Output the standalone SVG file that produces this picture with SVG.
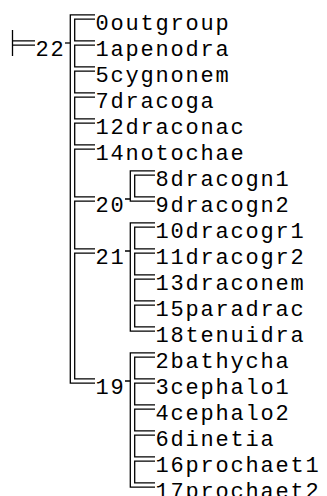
<svg xmlns="http://www.w3.org/2000/svg" width="327" height="496" viewBox="0 0 327 496">
<style>
  text { font-family: "Liberation Mono", "Courier New", monospace; font-size: 22px; letter-spacing: 1.8px; fill: #000; }
  .ln { fill: none; stroke: #000; stroke-width: 1.3; }
</style>
<rect width="327" height="496" fill="#fff"/>
<g id="connectors" class="ln">
  <path d="M12.5,30 V56 M12.5,40.8 H35 M12.5,45.2 H35"/>
  <path d="M65,43 H70.3"/>
  <path d="M95,14.8 H70.3 V383.2 H95"/>
  <path d="M95,19.2 H74.7 V40.8 H95 M95,45.2 H74.7 V66.8 H95 M95,71.2 H74.7 V92.8 H95 M95,97.2 H74.7 V118.8 H95 M95,123.2 H74.7 V144.8 H95 M95,149.2 H74.7 V196.8 H95 M95,201.2 H74.7 V248.8 H95 M95,253.2 H74.7 V378.8 H95"/>
  <path d="M125,199 H130.3 M155,170.8 H130.3 V201.2 H155 M155,175.2 H134.7 V196.8 H155"/>
  <path d="M125,251 H130.3 M155,222.8 H130.3 V331.2 H155 M155,227.2 H134.7 V248.8 H155 M155,253.2 H134.7 V274.8 H155 M155,279.2 H134.7 V300.8 H155 M155,305.2 H134.7 V326.8 H155"/>
  <path d="M125,381 H130.3 M155,352.8 H130.3 V487.2 H155 M155,357.2 H134.7 V378.8 H155 M155,383.2 H134.7 V404.8 H155 M155,409.2 H134.7 V430.8 H155 M155,435.2 H134.7 V456.8 H155 M155,461.2 H134.7 V482.8 H155"/>
</g>
<g id="n22"><text x="35.5" y="56">22</text></g>
<g id="n20"><text x="95.5" y="212">20</text></g>
<g id="n21"><text x="95.5" y="264">21</text></g>
<g id="n19"><text x="95.5" y="394">19</text></g>
<g id="t0"><text x="95.5" y="30">0outgroup</text></g>
<g id="t1"><text x="95.5" y="56">1apenodra</text></g>
<g id="t5"><text x="95.5" y="82">5cygnonem</text></g>
<g id="t7"><text x="95.5" y="108">7dracoga</text></g>
<g id="t12"><text x="95.5" y="134">12draconac</text></g>
<g id="t14"><text x="95.5" y="160">14notochae</text></g>
<g id="t8"><text x="155.5" y="186">8dracogn1</text></g>
<g id="t9"><text x="155.5" y="212">9dracogn2</text></g>
<g id="t10"><text x="155.5" y="238">10dracogr1</text></g>
<g id="t11"><text x="155.5" y="264">11dracogr2</text></g>
<g id="t13"><text x="155.5" y="290">13draconem</text></g>
<g id="t15"><text x="155.5" y="316">15paradrac</text></g>
<g id="t18"><text x="155.5" y="342">18tenuidra</text></g>
<g id="t2"><text x="155.5" y="368">2bathycha</text></g>
<g id="t3"><text x="155.5" y="394">3cephalo1</text></g>
<g id="t4"><text x="155.5" y="420">4cephalo2</text></g>
<g id="t6"><text x="155.5" y="446">6dinetia</text></g>
<g id="t16"><text x="155.5" y="472">16prochaet1</text></g>
<g id="t17"><text x="155.5" y="498">17prochaet2</text></g>
</svg>
